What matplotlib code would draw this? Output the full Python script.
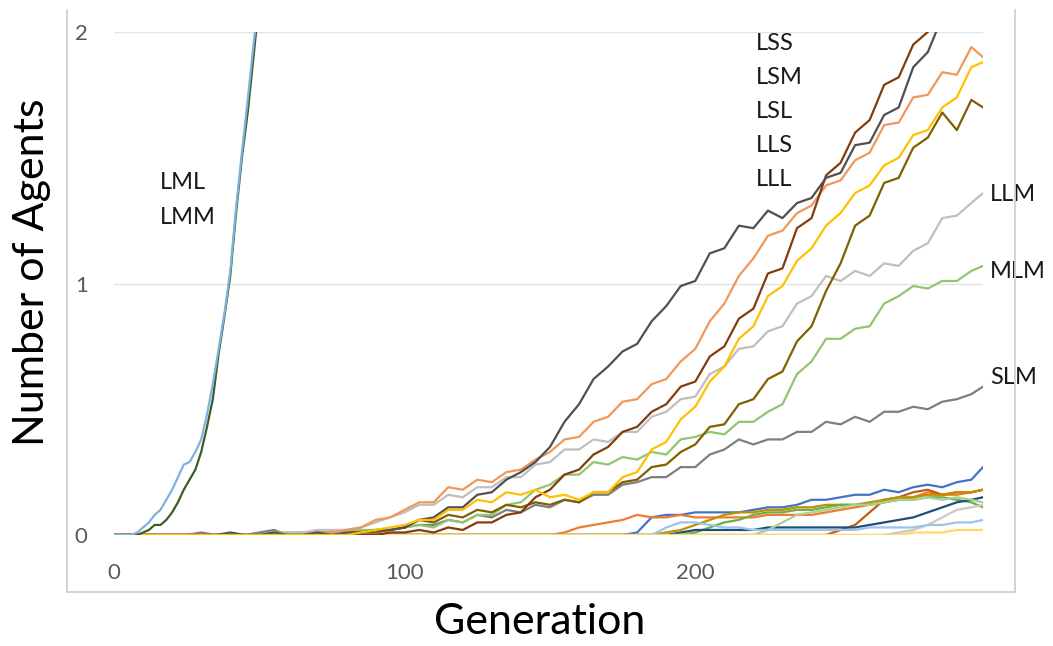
import numpy as np
import matplotlib.pyplot as plt
from matplotlib.lines import Line2D

plt.rcParams['font.family'] = ['Lato', 'DejaVu Sans']

# generations sampled every 5 steps (plus the last one)
gens = list(range(0, 300, 5)) + [299]

dkgray = [0, 0, 0, 0, 0, 0, 0, 0, 0.01, 0,
          0, 0.01, 0, 0, 0.01, 0, 0.01, 0.01, 0.02, 0.02,
          0.03, 0.06, 0.07, 0.11, 0.11, 0.16, 0.17, 0.22, 0.25, 0.29,
          0.35, 0.45, 0.52, 0.62, 0.67, 0.73, 0.76, 0.85, 0.91, 0.99,
          1.01, 1.12, 1.14, 1.23, 1.22, 1.29, 1.26, 1.32, 1.34, 1.42,
          1.44, 1.55, 1.56, 1.67, 1.70, 1.86, 1.92, 2.06, 2.12, 2.20,
          2.25]
ltorange = [0, 0, 0, 0, 0, 0, 0, 0, 0, 0,
            0, 0, 0, 0, 0.01, 0.01, 0.02, 0.03, 0.06, 0.07,
            0.10, 0.13, 0.13, 0.19, 0.18, 0.22, 0.21, 0.25, 0.26, 0.30,
            0.33, 0.38, 0.39, 0.45, 0.47, 0.53, 0.54, 0.60, 0.62, 0.69,
            0.74, 0.85, 0.92, 1.03, 1.10, 1.19, 1.21, 1.28, 1.31, 1.39,
            1.41, 1.49, 1.52, 1.63, 1.64, 1.74, 1.75, 1.84, 1.83, 1.94,
            1.90]
brown = [0, 0, 0, 0, 0, 0, 0, 0, 0, 0,
         0, 0, 0, 0, 0, 0, 0, 0, 0, 0.01,
         0.01, 0.02, 0.01, 0.03, 0.02, 0.05, 0.05, 0.08, 0.09, 0.15,
         0.18, 0.24, 0.26, 0.32, 0.35, 0.41, 0.43, 0.49, 0.52, 0.59,
         0.61, 0.71, 0.75, 0.86, 0.90, 1.04, 1.06, 1.22, 1.26, 1.43,
         1.48, 1.60, 1.65, 1.79, 1.82, 1.95, 2.00, 2.10, 2.15, 2.22,
         2.28]
gold = [0, 0, 0, 0, 0, 0, 0, 0, 0, 0,
        0, 0, 0, 0, 0, 0, 0, 0.01, 0.02, 0.03,
        0.04, 0.06, 0.06, 0.10, 0.10, 0.14, 0.13, 0.17, 0.16, 0.18,
        0.15, 0.16, 0.14, 0.17, 0.17, 0.23, 0.25, 0.34, 0.37, 0.46,
        0.51, 0.61, 0.67, 0.78, 0.83, 0.95, 0.99, 1.09, 1.14, 1.23,
        1.28, 1.36, 1.39, 1.47, 1.50, 1.59, 1.61, 1.70, 1.74, 1.86,
        1.88]
dkgold = [0, 0, 0, 0, 0, 0, 0, 0, 0, 0,
          0, 0, 0, 0, 0, 0, 0, 0.01, 0.01, 0.02,
          0.03, 0.06, 0.05, 0.08, 0.07, 0.10, 0.09, 0.12, 0.11, 0.13,
          0.12, 0.14, 0.13, 0.17, 0.17, 0.21, 0.22, 0.27, 0.28, 0.33,
          0.36, 0.43, 0.44, 0.52, 0.54, 0.62, 0.65, 0.77, 0.83, 0.97,
          1.08, 1.23, 1.27, 1.40, 1.42, 1.54, 1.58, 1.68, 1.61, 1.73,
          1.70]
ltgray = [0, 0, 0, 0, 0, 0, 0, 0, 0, 0,
          0, 0, 0.01, 0.01, 0.02, 0.02, 0.02, 0.03, 0.05, 0.07,
          0.09, 0.12, 0.12, 0.16, 0.15, 0.19, 0.19, 0.23, 0.23, 0.28,
          0.29, 0.34, 0.34, 0.38, 0.37, 0.41, 0.41, 0.47, 0.49, 0.54,
          0.55, 0.64, 0.67, 0.74, 0.75, 0.81, 0.83, 0.92, 0.95, 1.03,
          1.01, 1.05, 1.03, 1.08, 1.07, 1.13, 1.16, 1.26, 1.27, 1.32,
          1.36]
ltgreen = [0, 0, 0, 0, 0, 0, 0, 0, 0, 0,
           0, 0.01, 0.01, 0.01, 0.01, 0.01, 0.02, 0.02, 0.02, 0.02,
           0.03, 0.04, 0.03, 0.06, 0.05, 0.08, 0.08, 0.12, 0.13, 0.18,
           0.20, 0.24, 0.24, 0.29, 0.28, 0.31, 0.30, 0.33, 0.32, 0.38,
           0.39, 0.41, 0.40, 0.45, 0.45, 0.49, 0.52, 0.64, 0.69, 0.78,
           0.78, 0.82, 0.83, 0.92, 0.95, 0.99, 0.98, 1.01, 1.01, 1.05,
           1.07]
midgray = [0, 0, 0, 0, 0, 0, 0.01, 0, 0, 0,
           0.01, 0.02, 0, 0.01, 0.01, 0.01, 0.02, 0.01, 0.02, 0.02,
           0.03, 0.04, 0.04, 0.06, 0.05, 0.08, 0.07, 0.10, 0.09, 0.12,
           0.11, 0.14, 0.13, 0.16, 0.16, 0.20, 0.21, 0.23, 0.23, 0.27,
           0.27, 0.32, 0.34, 0.38, 0.36, 0.38, 0.38, 0.41, 0.41, 0.45,
           0.44, 0.47, 0.45, 0.49, 0.49, 0.51, 0.50, 0.53, 0.54, 0.56,
           0.59]

# the two fast growers, sampled every 2 generations
lm_gens = list(range(0, 54, 2))
lml = [0, 0, 0, 0, 0.01, 0.03, 0.05, 0.08, 0.10, 0.14,
       0.18, 0.23, 0.28, 0.29, 0.33, 0.38, 0.48, 0.60, 0.74, 0.88,
       1.05, 1.30, 1.52, 1.73, 1.95, 2.15, 2.40]
lmm = [0, 0, 0, 0, 0, 0.01, 0.02, 0.04, 0.04, 0.06,
       0.09, 0.13, 0.18, 0.22, 0.26, 0.33, 0.43, 0.54, 0.72, 0.87,
       1.03, 1.28, 1.50, 1.68, 1.90, 2.13, 2.38]

# slow strategies, flat at zero until gen 150
low_gens = [0] + list(range(150, 300, 5)) + [299]
blue = [0, 0, 0, 0, 0, 0, 0, 0.01, 0.07, 0.08, 0.08,
        0.09, 0.09, 0.09, 0.09, 0.10, 0.11, 0.11, 0.12, 0.14, 0.14,
        0.15, 0.16, 0.16, 0.18, 0.17, 0.19, 0.20, 0.19, 0.21, 0.22, 0.27]
orange = [0, 0, 0.01, 0.03, 0.04, 0.05, 0.06, 0.08, 0.07, 0.07, 0.08,
          0.07, 0.07, 0.07, 0.07, 0.07, 0.08, 0.08, 0.08, 0.08, 0.09,
          0.10, 0.11, 0.12, 0.13, 0.14, 0.15, 0.17, 0.16, 0.16, 0.17, 0.18]
dkorange = [0, 0, 0, 0, 0, 0, 0, 0, 0, 0, 0,
            0, 0, 0, 0, 0, 0, 0, 0, 0, 0,
            0.02, 0.04, 0.09, 0.14, 0.15, 0.17, 0.18, 0.16, 0.17, 0.17, 0.18]
olive = [0, 0, 0, 0, 0, 0, 0, 0, 0, 0.01, 0.02,
         0.04, 0.06, 0.08, 0.09, 0.09, 0.10, 0.10, 0.11, 0.11, 0.12,
         0.12, 0.12, 0.13, 0.14, 0.15, 0.15, 0.16, 0.16, 0.17, 0.17, 0.18]
green = [0, 0, 0, 0, 0, 0, 0, 0, 0, 0, 0,
         0.01, 0.03, 0.05, 0.06, 0.08, 0.09, 0.09, 0.10, 0.10, 0.11,
         0.12, 0.12, 0.12, 0.13, 0.14, 0.14, 0.15, 0.15, 0.14, 0.13, 0.11]
navy = [0, 0, 0, 0, 0, 0, 0, 0, 0, 0, 0.01,
        0.02, 0.02, 0.02, 0.02, 0.02, 0.03, 0.03, 0.03, 0.03, 0.03,
        0.03, 0.03, 0.04, 0.05, 0.06, 0.07, 0.09, 0.11, 0.13, 0.14, 0.15]
palegreen = [0, 0, 0, 0, 0, 0, 0, 0, 0, 0, 0,
             0, 0, 0, 0, 0, 0.02, 0.05, 0.08, 0.09, 0.10,
             0.11, 0.12, 0.12, 0.13, 0.14, 0.14, 0.15, 0.14, 0.15, 0.14, 0.13]
palegray = [0, 0, 0, 0, 0, 0, 0, 0, 0, 0, 0,
            0, 0, 0, 0, 0, 0, 0, 0, 0, 0,
            0, 0, 0, 0, 0.01, 0.02, 0.04, 0.07, 0.10, 0.11, 0.12]
paleblue = [0, 0, 0, 0, 0, 0, 0, 0, 0, 0.03, 0.05,
            0.05, 0.04, 0.03, 0.03, 0.02, 0.02, 0.02, 0.02, 0.02, 0.02,
            0.02, 0.02, 0.03, 0.03, 0.03, 0.03, 0.04, 0.04, 0.05, 0.05, 0.06]
paleyellow = [0, 0, 0, 0, 0, 0, 0, 0, 0, 0, 0,
              0, 0, 0, 0, 0, 0, 0, 0, 0, 0,
              0, 0, 0, 0, 0, 0.01, 0.01, 0.01, 0.02, 0.02, 0.02]

fig = plt.figure(figsize=(10.53, 6.46), dpi=100)
ax = fig.add_axes([114 / 1053, 1 - 535 / 646, 869 / 1053, 503 / 646])

low = [(blue, '#4472C4'), (orange, '#ED7D31'), (dkorange, '#C55A11'),
       (olive, '#BF9000'), (green, '#70AD47'), (navy, '#1F4E79'),
       (palegreen, '#A9D18E'), (palegray, '#C9C9C9'),
       (paleblue, '#9DC3E6'), (paleyellow, '#FFD966')]
for vals, col in low:
    ax.plot(low_gens, vals, color=col, lw=1.6)

main = [(midgray, '#7F7F7F'), (ltgreen, '#92C56F'), (ltgray, '#BFBFBF'),
        (dkgold, '#7F6000'), (ltorange, '#F1975A'), (brown, '#843C0C'),
        (dkgray, '#505050'), (gold, '#FFC000')]
for vals, col in main:
    ax.plot(gens, vals, color=col, lw=1.6)

ax.plot(lm_gens, lmm, color='#3B5E24', lw=1.6)
ax.plot(lm_gens, lml, color='#7FB2E0', lw=1.6)

ax.set_xlim(0, 299)
ax.set_ylim(0, 2)
ax.set_yticks([0, 1, 2])
ax.set_xticks([0, 100, 200])
for s in ax.spines.values():
    s.set_visible(False)
ax.yaxis.grid(True, color='#E3E3E3', lw=1)
ax.set_axisbelow(True)
ax.tick_params(length=0, labelsize=16, colors='#595959')
ax.tick_params(axis='x', pad=20)
ax.tick_params(axis='y', pad=19)

# axis titles
fig.text(540 / 1053, 1 - 634 / 646, 'Generation', fontsize=31,
         ha='center', va='baseline')
fig.text(32 / 1053, 1 - 272 / 646, 'Number of Agents', fontsize=31,
         rotation=90, ha='center', va='center')

tx = dict(fontsize=17, color='#1A1A1A', va='center', ha='left')
ax.text(15.8, 1.40, 'LML', **tx)
ax.text(15.8, 1.264, 'LMM', **tx)
for i, name in enumerate(['LSS', 'LSM', 'LSL', 'LLS', 'LLL']):
    ax.text(220.7, 1.956 - i * 0.136, name, **tx)
ax.text(301.5, 1.352, 'LLM', clip_on=False, **tx)
ax.text(301.5, 1.046, 'MLM', clip_on=False, **tx)
ax.text(301.5, 0.628, 'SLM', clip_on=False, **tx)

# chart area frame (left, right, bottom)
bc = '#D0D0D0'
x0, x1 = 67 / 1053, 1015 / 1053
y0, y1 = 1 - 592 / 646, 1 - 10 / 646
for xs, ys in [([x0, x0], [y0, y1]), ([x1, x1], [y0, y1]), ([x0, x1], [y0, y0])]:
    fig.add_artist(Line2D(xs, ys, color=bc, lw=1.3, transform=fig.transFigure))

fig.savefig('out.png', dpi=100, facecolor='white')
